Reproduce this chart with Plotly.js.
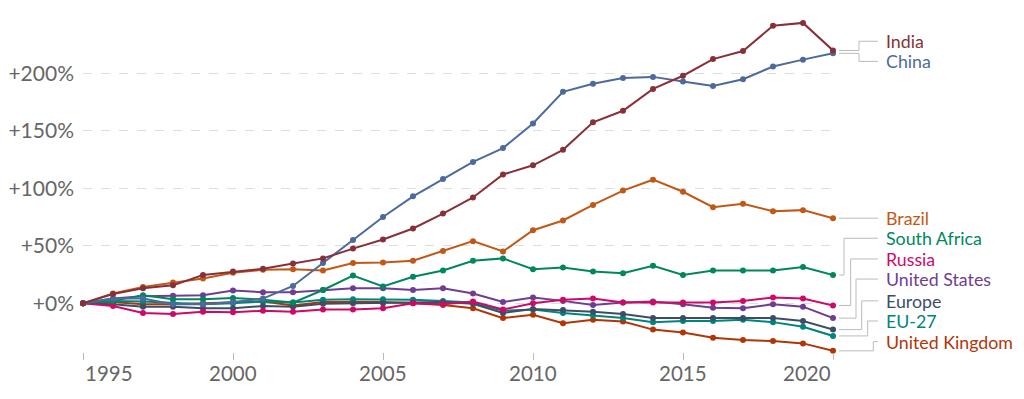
<!DOCTYPE html>
<html>
<head>
<meta charset="utf-8">
<script src="https://cdn.plot.ly/plotly-3.0.1.min.js"></script>
<style>
html,body{margin:0;padding:0;background:#fff;}
#chart{width:1024px;height:399px;}
</style>
</head>
<body>
<div id="chart"></div>
<script>
// ---- data (percent change vs 1995) ----
const years = [1995,1996,1997,1998,1999,2000,2001,2002,2003,2004,2005,2006,2007,2008,2009,2010,2011,2012,2013,2014,2015,2016,2017,2018,2019,2020];
const india = [0,8,13,15.5,24.5,27.5,30,34.5,39,47.5,55.5,65,78,92,112,120,133.5,157.5,167.5,186.5,198,212.5,219.5,241.5,244,220];
const china = [0,4,4,-1,-1,1,4,15,35,55,75,93,108,123,135,156.5,184,191,196,197,193,189,195,206,212,217.5];
const brazil = [0,8.5,14,18,21.5,26.5,29,29.5,28.5,35,35.5,37,45.5,54,45,63.5,72,85.5,98,107.5,97,83.5,86.5,80,81,74];
const southAfrica = [0,2,7,3.5,3.5,4.5,3,0.5,11.5,24,14.5,23,28.5,37,39,29.5,31,27.5,26,32.5,24.5,28.5,28.5,28.5,31.5,24.5];
const russia = [0,-2.5,-8.5,-9.5,-7.5,-8,-6.5,-7.5,-5.5,-5.5,-4.5,0,-1,1.5,-5.5,0,3,4,0.5,0.5,0.5,0.5,2,5,4,-2];
const unitedStates = [0,4,6,6.5,7,11,9.5,9.5,11.5,13,13,11.5,13,8.5,1,5,2,-1.5,0.5,1.5,-1,-4,-4.5,-1,-3,-13];
const europe = [0,-1,-3,-3,-4.5,-4.5,-2.5,-3,-0.5,0,0,0.5,1,-0.5,-8.5,-5,-6,-7.5,-9.5,-13,-13,-13,-13,-13,-15.5,-23];
const eu27 = [0,2,1.5,0,-1,0,1.5,0.5,3,3.5,3.5,3,2,0.5,-6.5,-5.5,-8.5,-10.5,-13,-16.5,-15.5,-15.5,-14.5,-16.5,-20.5,-28.5];
const unitedKingdom = [0,1,-1,-1,0,1,1.5,-2,1,1,1,0,-1.5,-4.5,-13,-10,-17.5,-14.5,-16,-23,-25.5,-30,-32,-33,-35,-41.5];

const seriesNames = ["India","China","Brazil","South Africa","Russia","United States","Europe","EU-27","United Kingdom"];
const seriesValues = [india,china,brazil,southAfrica,russia,unitedStates,europe,eu27,unitedKingdom];
const seriesColors = ["#883039","#4C6A9C","#C05917","#00875E","#CF0A66","#6D3E91","#3C4E66","#00847E","#B13507"];

const yTickVals = [0,50,100,150,200];
const yTickText = ["+0%","+50%","+100%","+150%","+200%"];
const xTickVals = [1995,2000,2005,2010,2015,2020];
const xTickText = ["1995","2000","2005","2010","2015","2020"];

// ---- layout geometry ----
const YMIN = -42.5, YMAX = 250;
const PL = 83, PR = 833;            // plot left/right in px
const labelY = [228,210.5,74,56.5,38.5,21,2,-15.5,-33.5]; // label centres (data units)
const elbowPx = [859,859,855,844,850.7,856,861.7,867.7,873.3];

function xp(px){ return (px-PL)/(PR-PL); }
function yp(v){ return (v-YMIN)/(YMAX-YMIN); }

const font = "Lato, 'Open Sans', sans-serif";

const traces = seriesNames.map((n,i)=>({
  type:'scatter', mode:'lines+markers', name:n,
  x:years, y:seriesValues[i],
  line:{color:seriesColors[i], width:2},
  marker:{color:seriesColors[i], size:6},
  cliponaxis:false, hoverinfo:'skip'
})).reverse();

const shapes = [];
const annotations = [];
seriesNames.forEach((n,i)=>{
  const v = seriesValues[i][seriesValues[i].length-1];
  const x0 = xp(839), xe = xp(elbowPx[i]), x1 = xp(878);
  const y0 = yp(v), y1 = yp(labelY[i]);
  shapes.push({type:'path', xref:'paper', yref:'paper',
    path:`M ${x0} ${y0} L ${xe} ${y0} L ${xe} ${y1} L ${x1} ${y1}`,
    line:{color:'#bbb', width:1}});
  annotations.push({xref:'paper', yref:'paper', x:xp(884), y:y1,
    xanchor:'left', yanchor:'middle', text:n, showarrow:false,
    font:{family:font, size:17.8, color:seriesColors[i]}});
});
xTickVals.forEach((t,i)=>{
  annotations.push({xref:'x', yref:'paper', x:t, y:0, yshift:-21,
    xanchor: i===0 ? 'left' : (i===xTickVals.length-1 ? 'right' : 'center'),
    yanchor:'middle', text:xTickText[i], showarrow:false,
    font:{family:font, size:20.5, color:'#666'}});
});

const layout = {
  width:1024, height:399,
  margin:{l:PL, r:1024-PR, t:15.8, b:46.8, pad:0},
  paper_bgcolor:'#fff', plot_bgcolor:'#fff',
  showlegend:false,
  font:{family:font, color:'#666'},
  xaxis:{range:[1995,2020], tickvals:xTickVals, showticklabels:false,
    ticks:'outside', ticklen:7, tickcolor:'#bbb', tickwidth:1,
    showgrid:false, zeroline:false, showline:false, fixedrange:true},
  yaxis:{range:[YMIN,YMAX], tickvals:yTickVals, ticktext:yTickText,
    tickfont:{family:font, size:21, color:'#666'},
    showgrid:true, gridcolor:'#ddd', griddash:'dash', gridwidth:1,
    zeroline:false, showline:false, ticks:'', ticklabelstandoff:8, fixedrange:true},
  shapes:shapes, annotations:annotations
};

Plotly.newPlot('chart', traces, layout, {staticPlot:true, displayModeBar:false});
</script>
</body>
</html>
